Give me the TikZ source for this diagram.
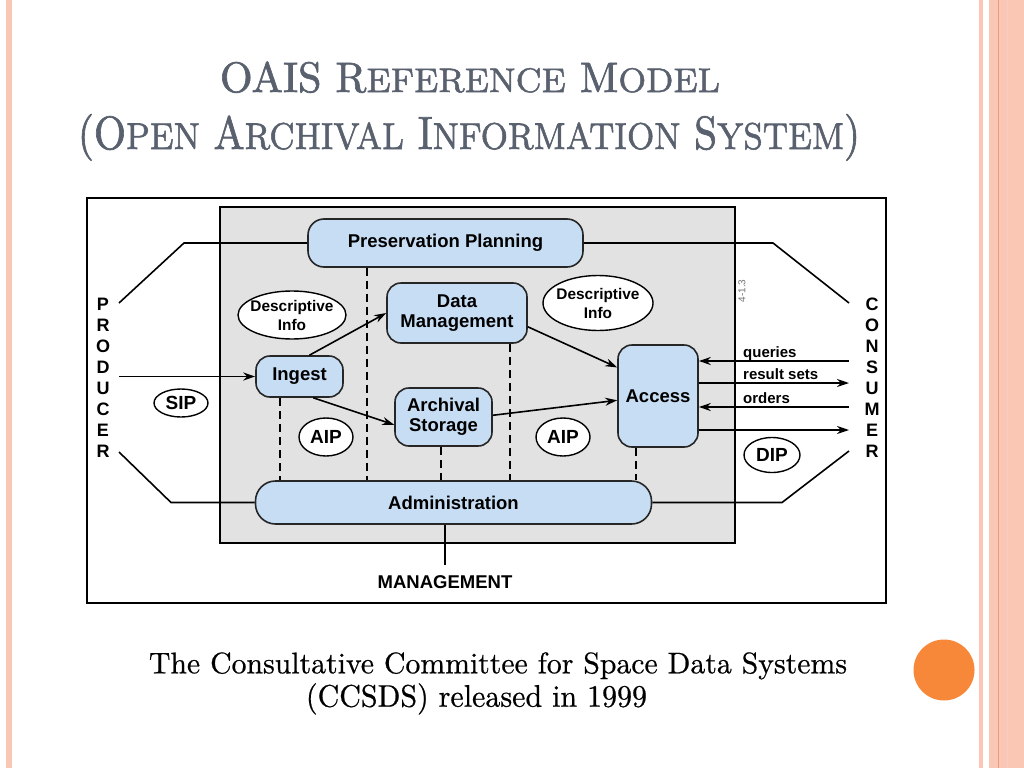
\documentclass[tikz,border=0pt]{standalone}
\usepackage{fontspec}
\usepackage{graphicx}
\newfontfamily\diagfont{Liberation Sans}
\newfontfamily\slidefont{Latin Modern Roman}[FakeBold=1.5]
\newfontfamily\notefont{Latin Modern Roman}[FakeBold=0.6]
\usepackage{xcolor}
\definecolor{slideTitle}{HTML}{59606E}
\definecolor{boxBlue}{HTML}{C7DDF4}
\definecolor{panelGray}{HTML}{E2E2E2}
\definecolor{stripePink}{HTML}{F9C7B4}
\definecolor{stripeLine}{HTML}{E99D80}
\definecolor{dotOrange}{HTML}{F7883A}
\usepackage{tikz}
\usetikzlibrary{arrows.meta,shapes.geometric}
\newcommand{\nw}[1]{\makebox[0pt]{#1}}
\newcommand{\fsc}[1]{{\fontsize{8}{8}\selectfont #1}}

\begin{document}
\begin{tikzpicture}[x=1pt, y=-1pt, >={Stealth[length=12pt,width=8pt]},
  fnbox/.style={draw=black!85, line width=1.6pt, fill=boxBlue, rounded corners=14pt,
    inner sep=0pt, align=center, font=\diagfont\bfseries\fontsize{18.5}{20}\selectfont},
  tag/.style={ellipse, draw=black, line width=1.4pt, fill=white, inner sep=0pt,
    align=center, font=\diagfont\bfseries\fontsize{15.4}{19}\selectfont},
  pkg/.style={tag, font=\diagfont\bfseries\fontsize{19}{20}\selectfont},
  flow/.style={->, line width=1.6pt},
  link/.style={line width=1.6pt},
  dashline/.style={dashed, dash pattern=on 8pt off 5pt, line width=1.8pt},
  sideletter/.style={inner sep=0pt, font=\diagfont\bfseries\fontsize{18}{18}\selectfont},
  flowlabel/.style={inner sep=0pt, font=\diagfont\bfseries\fontsize{15}{15}\selectfont}]
  \useasboundingbox (0,0) rectangle (1024,768);
  % slide decoration
  \fill[stripePink] (6,0) rectangle (12,768);
  \fill[stripePink] (979,0) rectangle (983,768);
  \fill[stripePink] (989,0) rectangle (1024,768);
  \draw[stripeLine, line width=1pt] (998.5,0) -- (998.5,768);
  \draw[stripeLine!50, line width=0.8pt] (1007,0) -- (1007,768);
  \fill[dotOrange] (944,670) circle (30.5);
  % title and caption
  \node (title1) [anchor=base, inner sep=0pt, text=slideTitle] at (470,92)
    {\resizebox{500pt}{30.5pt}{\slidefont\fontsize{10}{10}\selectfont OAIS R\fsc{EFERENCE} M\fsc{ODEL}}};
  \node (title2) [anchor=base, inner sep=0pt, text=slideTitle] at (469,149)
    {\resizebox{782pt}{35pt}{\slidefont\fontsize{10}{10}\selectfont (O\fsc{PEN} A\fsc{RCHIVAL} I\fsc{NFORMATION} S\fsc{YSTEM})}};
  \node (note1) [anchor=base, inner sep=0pt] at (498,673.3)
    {\resizebox{698pt}{21pt}{\notefont\fontsize{10}{10}\selectfont The Consultative Committee for Space Data Systems}};
  \node (note2) [anchor=base, inner sep=0pt] at (476.5,706.7)
    {\resizebox{341pt}{23.4pt}{\notefont\fontsize{10}{10}\selectfont (CCSDS) released in 1999}};
  % frame and OAIS panel
  \draw[line width=2.2pt] (87,198) rectangle (886,603);
  \draw[line width=2.2pt, fill=panelGray] (220,207) rectangle (735,543);
  \node[rotate=90, inner sep=0pt, text=black!55, font=\diagfont\fontsize{10}{10}\selectfont] (figno) at (742,291) {4-1.3};
  % functional entities
  \node[fnbox, minimum width=275pt, minimum height=48pt, rounded corners=16pt] (pp) at (445.5,243) {Preservation Planning};
  \node[fnbox, minimum width=140pt, minimum height=60pt] (dm) at (457,313) {Data\\Management};
  \node[fnbox, minimum width=87pt, minimum height=41pt] (ingest) at (299.5,376.5) {Ingest};
  \node[fnbox, minimum width=97pt, minimum height=58pt] (store) at (443.5,417) {Archival\\Storage};
  \node[fnbox, minimum width=80pt, minimum height=102pt] (access) at (658,396) {Access};
  \node[fnbox, minimum width=396pt, minimum height=43pt, rounded corners=20pt] (admin) at (453.5,502.5) {Administration};
  % information packages
  \node[tag, minimum width=108pt, minimum height=48pt] (infoL) at (292,315) {\nw{Descriptive}\\\nw{Info}};
  \node[tag, minimum width=110pt, minimum height=55pt] (infoR) at (598,303) {\nw{Descriptive}\\\nw{Info}};
  \node[pkg, minimum width=54pt, minimum height=28pt] (sip) at (181,403) {\nw{SIP}};
  \node[pkg, minimum width=54pt, minimum height=38pt] (aipL) at (326,437) {\nw{AIP}};
  \node[pkg, minimum width=54pt, minimum height=38pt] (aipR) at (563,437) {\nw{AIP}};
  \node[pkg, minimum width=56pt, minimum height=35pt] (dip) at (772,455) {\nw{DIP}};
  % internal flows
  \draw[flow] (ingest.65) -- (dm.west);
  \draw[flow] (ingest.-57) -- (store.189);
  \draw[flow] (dm.-11) -- (access.145);
  \draw[flow] (store.2) -- (access.186);
  \foreach \x/\from in {280/ingest, 367/pp, 441/store, 510/dm, 636/access}
    \draw[dashline] (\x,0 |- \from.south) -- (\x,0 |- admin.north);
  % producer side
  \foreach \ch [count=\i] in {P,R,O,D,U,C,E,R}
    \node[sideletter] (prod\i) at (103,283+21*\i) {\ch};
  \coordinate (pTop) at (119,303);
  \coordinate (pKnee) at (184,243);
  \coordinate (pMid) at (119,376.5);
  \coordinate (pBot) at (119,452);
  \coordinate (pFoot) at (171,502.5);
  \draw[link] (pTop) -- (pKnee) -- (pp.west);
  \draw[flow] (pMid) -- (ingest.west);
  \draw[link] (pBot) -- (pFoot) -- (admin.west);
  % consumer side
  \foreach \ch [count=\i] in {C,O,N,S,U,M,E,R}
    \node[sideletter] (cons\i) at (872,283+21*\i) {\ch};
  \coordinate (cTop) at (849,303);
  \coordinate (cKnee) at (773,243);
  \coordinate (cBot) at (849,451);
  \coordinate (cFoot) at (782,502.5);
  \draw[link] (pp.east) -- (cKnee) -- (cTop);
  \draw[link] (admin.east) -- (cFoot) -- (cBot);
  \foreach \y/\nm in {361/q, 407/o} {
    \coordinate (c\nm) at (849,\y);
    \draw[flow] (c\nm) -- (access.east |- c\nm);
  }
  \foreach \y/\nm in {383/r, 430/d} {
    \coordinate (c\nm) at (849,\y);
    \draw[flow] (access.east |- c\nm) -- (c\nm);
  }
  \foreach \y/\txt/\nm in {361/queries/q, 383/result sets/r, 407/orders/o}
    \node[flowlabel, anchor=base west] (lbl\nm) at (743,\y-4) {\txt};
  % management
  \node[anchor=north, inner sep=0pt, outer ysep=11pt, font=\diagfont\bfseries\fontsize{18.5}{20}\selectfont] (mgmt) at (445,565) {MANAGEMENT};
  \draw[link] (mgmt.north |- admin.south) -- (mgmt.north);
\end{tikzpicture}
\end{document}
